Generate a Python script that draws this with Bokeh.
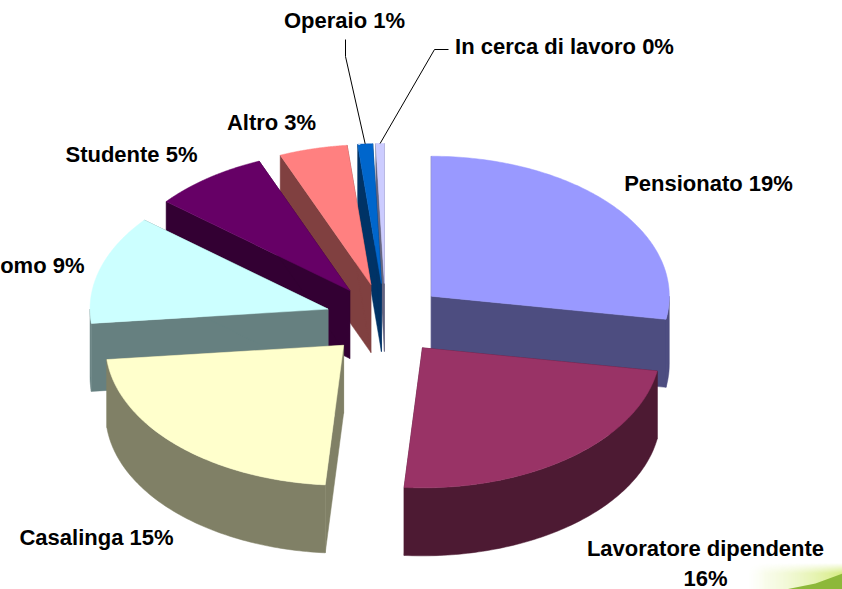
import numpy as np
from bokeh.embed import file_html
from bokeh.resources import INLINE
from bokeh.plotting import figure
from bokeh.models import Range1d
from bokeh.core.properties import value

# ---- data ----
categories = ["Pensionato", "Lavoratore dipendente", "Casalinga", "Lavoratore autonomo",
              "Studente", "Altro", "Operaio", "In cerca di lavoro"]
values = [19.1, 16.3, 15.3, 8.7, 5.4, 3.2, 0.7, 0.4]
percent_labels = ["19%", "16%", "15%", "9%", "5%", "3%", "1%", "0%"]
top_colors = ["#9999FF", "#993366", "#FFFFCC", "#CCFFFF", "#660066", "#FF8080", "#0066CC", "#CCCCFF"]
side_colors = ["#4D4D80", "#4D1A33", "#808066", "#668080", "#330033", "#804040", "#003366", "#666680"]

# ---- layout (pixels of the 842x589 page) ----
CX, CY, RX, RY, DEPTH = 385.0, 319.0, 238.0, 140.0, 68.0
EXPLODE_X, EXPLODE_Y = 60.0, 36.0
label_anchor = {  # x, y, align
    "Pensionato": (708, 183, "center"),
    "Lavoratore dipendente": (705, 548, "center"),
    "Casalinga": (96, 537, "center"),
    "Lavoratore autonomo": (84, 265, "right"),
    "Studente": (131, 154, "center"),
    "Altro": (271, 122, "center"),
    "Operaio": (344, 20, "center"),
    "In cerca di lavoro": (564, 46, "center"),
}
second_line_y = 578
leader_elbows = {"Operaio": [(345, 39), (345, 56)], "In cerca di lavoro": [(448, 49), (434, 49)]}

p = figure(width=842, height=589, x_range=Range1d(0, 842), y_range=Range1d(589, 0),
           toolbar_location=None, output_backend="svg", min_border=0,
           background_fill_color="#FFFFFF", border_fill_color="#FFFFFF",
           outline_line_color=None, styles={"position": "absolute", "left": "0px", "top": "0px"})
p.axis.visible = False
p.grid.visible = False

# decorative swoosh in the lower right corner
H, W = 27, 97
tx = np.linspace(0, 1, W)[None, :]
ty = np.linspace(0, 1, H)[:, None]
rgba = np.zeros((H, W), dtype=np.uint32)
view = rgba.view(dtype=np.uint8).reshape((H, W, 4))
view[..., 0] = 214
view[..., 1] = 236
view[..., 2] = 130
view[..., 3] = np.clip(255 * (0.25 + 0.75 * tx) ** 2 * np.clip(ty * 2.5, 0, 1) * np.clip(tx * 5, 0, 1), 0, 255).astype(np.uint8)
p.image_rgba(image=[rgba], x=745, y=562, dw=W, dh=H)
p.patch([785, 815, 842, 842], [589, 583, 573, 589], fill_color="#8DB83A", line_color=None)

# slice angles from the values, clockwise from twelve o'clock
total = sum(values)
sweeps = [v / total * 360.0 for v in values]
starts = np.cumsum([0.0] + sweeps[:-1])
slices = []
for i, (s, w) in enumerate(zip(starts, sweeps)):
    mid = np.radians(s + w / 2)
    ax = CX + EXPLODE_X * np.sin(mid)
    ay = CY - EXPLODE_Y * np.cos(mid)
    slices.append((i, s, s + w, ax, ay))


def rim(ax, ay, deg):
    t = np.radians(deg)
    return ax + RX * np.sin(t), ay - RY * np.cos(t)


def draw(i, s, e, ax, ay):
    side = side_colors[i]
    # radial walls
    for d in (s, e):
        x, y = rim(ax, ay, d)
        p.patch([ax, x, x, ax], [ay, y, y + DEPTH, ay + DEPTH], fill_color=side, line_color=side, line_width=0.5)
    # outer wall, only the front half shows
    lo, hi = max(s, 90.0), min(e, 270.0)
    if hi > lo:
        a = np.linspace(lo, hi, 90)
        xs, ys = rim(ax, ay, a)
        p.patch(np.r_[xs, xs[::-1]], np.r_[ys, ys[::-1] + DEPTH], fill_color=side, line_color=side, line_width=0.5)
    # top face
    a = np.linspace(s, e, 120)
    xs, ys = rim(ax, ay, a)
    p.patch(np.r_[ax, xs], np.r_[ay, ys], fill_color=top_colors[i], line_color=top_colors[i], line_width=0.5)


for k in [7, 6, 5, 4, 3, 0, 2, 1]:
    draw(*slices[k])

# leaders
for name, elbow in leader_elbows.items():
    i, s, e, ax, ay = slices[categories.index(name)]
    x, y = rim(ax, ay, (s + e) / 2)
    p.line([pt[0] for pt in elbow] + [x], [pt[1] for pt in elbow] + [y], line_color="#000000", line_width=1)


# labels
def label(x, y, txt, align):
    p.text([x], [y], text=[txt], text_font=value("Liberation Sans"), text_font_style="bold",
           text_font_size="22px", text_align=align, text_baseline="middle",
           text_color="#000000", text_line_height=1.0)


for name, pct in zip(categories, percent_labels):
    x, y, align = label_anchor[name]
    if name == "Lavoratore dipendente":
        label(x, y, name, align)
        label(x, second_line_y, pct, align)
    else:
        label(x, y, f"{name} {pct}", align)

open("out.html", "w").write(file_html(p, INLINE))
